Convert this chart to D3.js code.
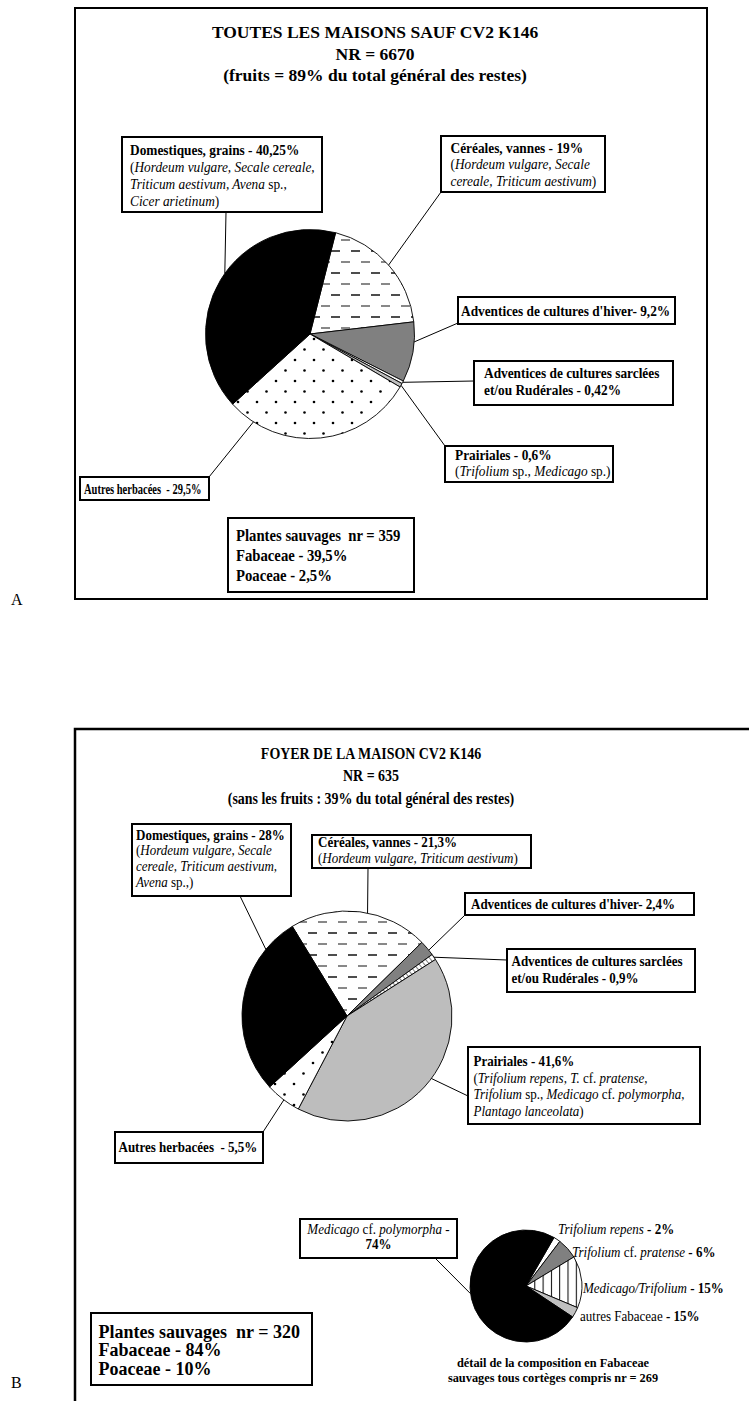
<!DOCTYPE html>
<html>
<head>
<meta charset="utf-8">
<script src="https://cdn.jsdelivr.net/npm/d3@7"></script>
<style>
  body { margin: 0; background: #fff; }
  svg { display: block; }
  text { font-family: "Liberation Serif", "Times New Roman", serif; white-space: pre; fill: #000; }
</style>
</head>
<body>
<svg id="chart" width="749" height="1401"></svg>
<script>
// ---- data ----
const groups = ['cereales', 'hiver', 'sarclees', 'prairiales', 'autres', 'domestiques'];
const topValues = [19, 9.2, 0.42, 0.6, 29.5, 40.25];
const botValues = [21.3, 2.4, 0.9, 41.6, 5.5, 28];

const fabGroups = ['repens', 'pratense', 'medtrif', 'autresFab', 'polymorpha'];
// "autres Fabaceae" is labelled 15% but drawn as a thin slice
const fabValues = [2, 6, 15, 3, 74];

const topTitle = ['TOUTES LES MAISONS SAUF CV2 K146', 'NR = 6670', '(fruits = 89% du total général des restes)'];
const botTitle = ['FOYER DE LA MAISON CV2 K146', 'NR = 635', '(sans les fruits : 39% du total général des restes)'];

// **bold**, _italic_, rest regular
const topLabels = [
  ['**Céréales, vannes - 19%**', '(_Hordeum vulgare, Secale_', '_cereale, Triticum aestivum_)'],
  ["**Adventices de cultures d'hiver- 9,2%**"],
  ['**Adventices de cultures sarclées**', '**et/ou Rudérales - 0,42%**'],
  ['**Prairiales - 0,6%**', '(_Trifolium_ sp., _Medicago_ sp.)'],
  ['**Autres herbacées  - 29,5%**'],
  ['**Domestiques, grains - 40,25%**', '(_Hordeum vulgare, Secale cereale,_', '_Triticum aestivum, Avena_ sp.,', '_Cicer arietinum_)']
];
const botLabels = [
  ['**Céréales, vannes - 21,3%**', '(_Hordeum vulgare, Triticum aestivum_)'],
  ["**Adventices de cultures d'hiver- 2,4%**"],
  ['**Adventices de cultures sarclées**', '**et/ou Rudérales - 0,9%**'],
  ['**Prairiales - 41,6%**', '(_Trifolium repens, T._ cf. _pratense,_', '_Trifolium_ sp., _Medicago_ cf. _polymorpha,_', '_Plantago lanceolata_)'],
  ['**Autres herbacées  - 5,5%**'],
  ['**Domestiques, grains - 28%**', '(_Hordeum vulgare, Secale_', '_cereale, Triticum aestivum,_', '_Avena_ sp.,)']
];
const fabLabels = [
  ['_Trifolium repens_ **- 2%**'],
  ['_Trifolium_ cf. _pratense_ **- 6%**'],
  ['_Medicago/Trifolium_ **- 15%**'],
  ['autres Fabaceae **- 15%**'],
  ['_Medicago_ cf. _polymorpha_ -', '**74%**']
];
const topSummary = ['Plantes sauvages  nr = 359', 'Fabaceae - 39,5%', 'Poaceae - 2,5%'];
const botSummary = ['Plantes sauvages  nr = 320', 'Fabaceae - 84%', 'Poaceae - 10%'];
const fabCaption = ['détail de la composition en Fabaceae', 'sauvages tous cortèges compris nr = 269'];

// ---- styles / layout ----
const topFills = ['url(#dash)', '#808080', '#ffffff', '#c0c0c0', 'url(#dots)', '#000'];
const botFills = ['url(#dash)', '#808080', 'url(#hatch)', '#bdbdbd', 'url(#dots)', '#000'];
const fabFills = ['#ffffff', '#808080', 'url(#vlines)', '#c0c0c0', '#000'];

const topBoxes = [
  { x: 441, y: 136, w: 164, h: 56, tx: 9.5, ty: 16.5, lh: 17, ax: 441, ay: 192, t: 0.5 },
  { x: 458, y: 297, w: 217, h: 27, tx: 3, ty: 19, lh: 17, ax: 458, ay: 323, t: 0.33 },
  { x: 474, y: 361, w: 199, h: 44, tx: 10, ty: 17, lh: 16.8, ax: 474, ay: 381, t: 0.5 },
  { x: 445, y: 446, w: 168, h: 36, tx: 10, ty: 14, lh: 16.5, ax: 445, ay: 446, t: 0.5 },
  { x: 80, y: 477, w: 129, h: 23, tx: 4, ty: 16.5, lh: 17, ax: 209, ay: 477, t: 0.86, sx: 0.725 },
  { x: 122, y: 137, w: 200, h: 75, tx: 8, ty: 17.5, lh: 17.3, ax: 226, ay: 212, t: 0.53 }
];
const botBoxes = [
  { x: 312, y: 835, w: 219, h: 33, tx: 6, ty: 12, lh: 16.3, ax: 368, ay: 868, t: 0.555 },
  { x: 465, y: 893, w: 229, h: 22, tx: 6, ty: 16.3, lh: 16, ax: 465, ay: 915, t: 0.65 },
  { x: 507, y: 949, w: 188, h: 43, tx: 4.5, ty: 17, lh: 16.7, ax: 507, ay: 960, t: 0.55 },
  { x: 468, y: 1047, w: 232, h: 77, tx: 5.5, ty: 19.3, lh: 16.5, ax: 468, ay: 1096, t: 0.46 },
  { x: 115, y: 1132, w: 148, h: 31, tx: 3.5, ty: 19.5, lh: 16, ax: 263, ay: 1132, t: 0.47 },
  { x: 132, y: 824, w: 159, h: 72, tx: 4, ty: 15.5, lh: 16, ax: 240, ay: 896, t: 0.81 }
];
const fabPos = [
  { x: 558, y: 1233.5 },
  { x: 572, y: 1257 },
  { x: 583, y: 1293 },
  { x: 580, y: 1321 },
  { x: 300, y: 1219, w: 157, h: 39, ty: 14.7, lh: 15.5, ax: 435, ay: 1258, t: 0.52 }
];

const svg = d3.select('#chart');

// patterns
const defs = svg.append('defs');
const dash = defs.append('pattern').attr('id', 'dash')
  .attr('patternUnits', 'userSpaceOnUse').attr('width', 20).attr('height', 22);
dash.append('rect').attr('width', 20).attr('height', 22).attr('fill', '#fff');
dash.append('line').attr('x1', 1).attr('x2', 10).attr('y1', 5).attr('y2', 5)
  .attr('stroke', '#000').attr('stroke-width', 1.4);
dash.append('line').attr('x1', 11).attr('x2', 20).attr('y1', 16).attr('y2', 16)
  .attr('stroke', '#555').attr('stroke-width', 1.4);

const dots = defs.append('pattern').attr('id', 'dots')
  .attr('patternUnits', 'userSpaceOnUse').attr('width', 19).attr('height', 21);
dots.append('rect').attr('width', 19).attr('height', 21).attr('fill', '#fff');
dots.append('circle').attr('cx', 4).attr('cy', 5).attr('r', 1.3).attr('fill', '#000');
dots.append('circle').attr('cx', 13.5).attr('cy', 15.5).attr('r', 1.3).attr('fill', '#000');

const hatch = defs.append('pattern').attr('id', 'hatch')
  .attr('patternUnits', 'userSpaceOnUse').attr('width', 4).attr('height', 4)
  .attr('patternTransform', 'rotate(-40)');
hatch.append('rect').attr('width', 4).attr('height', 4).attr('fill', '#fff');
hatch.append('line').attr('x1', 0).attr('x2', 0).attr('y1', 0).attr('y2', 4)
  .attr('stroke', '#000').attr('stroke-width', 1);

const vlines = defs.append('pattern').attr('id', 'vlines')
  .attr('patternUnits', 'userSpaceOnUse').attr('width', 8.3).attr('height', 10);
vlines.append('rect').attr('width', 8.3).attr('height', 10).attr('fill', '#fff');
vlines.append('line').attr('x1', 0.5).attr('x2', 0.5).attr('y1', 0).attr('y2', 10)
  .attr('stroke', '#000').attr('stroke-width', 1);

// rich text: each line split into bold / italic / regular tspans
function richText(g, lines, x, y, lh, fs, anchor, sx) {
  const holder = g.append('g').attr('transform', `translate(${x},${y}) scale(${sx || 1},1)`);
  const t = holder.append('text').attr('font-size', fs).attr('text-anchor', anchor || 'start');
  lines.forEach((line, i) => {
    const parts = line.split(/(\*\*[^*]+\*\*|_[^_]+_)/).filter(s => s.length);
    parts.forEach((p, j) => {
      const ts = t.append('tspan');
      if (j === 0) ts.attr('x', 0).attr('y', i * lh);
      if (p.startsWith('**')) ts.attr('font-weight', 'bold').text(p.slice(2, -2));
      else if (p.startsWith('_')) ts.attr('font-style', 'italic').text(p.slice(1, -1));
      else ts.text(p);
    });
  });
}

function drawPie(values, fills, cx, cy, r, startDeg) {
  const a0 = startDeg * Math.PI / 180;
  const pie = d3.pie().sort(null).startAngle(a0).endAngle(a0 + 2 * Math.PI);
  const arc = d3.arc().innerRadius(0).outerRadius(r);
  const arcs = pie(values);
  svg.append('g')
    .attr('transform', `translate(${cx},${cy})`)
    .selectAll('path')
    .data(arcs)
    .join('path')
    .attr('d', arc)
    .attr('fill', (d, i) => fills[i])
    .attr('stroke', '#000')
    .attr('stroke-width', 0.9);
  // point on the rim inside a slice, t = fraction across the slice
  return (i, t) => {
    const d = arcs[i];
    const p = d3.pointRadial(d.startAngle + t * (d.endAngle - d.startAngle), r);
    return [cx + p[0], cy + p[1]];
  };
}

function leader(from, to) {
  svg.append('line')
    .attr('x1', from[0]).attr('y1', from[1])
    .attr('x2', to[0]).attr('y2', to[1])
    .attr('stroke', '#000').attr('stroke-width', 1);
}

function box(b) {
  svg.append('rect')
    .attr('x', b.x).attr('y', b.y).attr('width', b.w).attr('height', b.h)
    .attr('fill', '#fff').attr('stroke', '#000').attr('stroke-width', 2);
}

function labelledPie(values, fills, labels, boxes, cx, cy, r, startDeg, fs, sx) {
  const rim = drawPie(values, fills, cx, cy, r, startDeg);
  boxes.forEach((b, i) => leader([b.ax, b.ay], rim(i, b.t)));
  boxes.forEach((b, i) => {
    box(b);
    richText(svg, labels[i], b.x + b.tx, b.y + b.ty, b.lh, fs, 'start', b.sx || sx);
  });
}

// frames
svg.append('rect').attr('x', 75).attr('y', 8).attr('width', 632).attr('height', 591)
  .attr('fill', 'none').attr('stroke', '#000').attr('stroke-width', 2);
svg.append('path').attr('d', 'M75,1401V729H749')
  .attr('fill', 'none').attr('stroke', '#000').attr('stroke-width', 2.5);
svg.append('text').attr('x', 11).attr('y', 605).attr('font-size', 16).text('A');
svg.append('text').attr('x', 11).attr('y', 1388).attr('font-size', 16).text('B');

// ---- panel A ----
richText(svg, topTitle.map(s => `**${s}**`), 375, 38, 21.7, 17.5, 'middle');
labelledPie(topValues, topFills, topLabels, topBoxes, 310, 334, 104.5, 14.2, 14.5, 0.92);
const ts = { x: 228, y: 518, w: 186, h: 74 };
box(ts);
richText(svg, topSummary.map(s => `**${s}**`), ts.x + 8, ts.y + 22.5, 20.5, 17.5, 'start', 0.84);

// ---- panel B ----
richText(svg, botTitle.map(s => `**${s}**`), 371, 759, 22.3, 16.5, 'middle', 0.845);
labelledPie(botValues, botFills, botLabels, botBoxes, 347, 1016, 105, -31.4, 14, 0.93);
const bs = { x: 91, y: 1313, w: 221, h: 72 };
box(bs);
richText(svg, botSummary.map(s => `**${s}**`), bs.x + 7.5, bs.y + 24.5, 18.5, 18, 'start');

// Fabaceae detail pie
const fabRim = drawPie(fabValues, fabFills, 526, 1286, 56, 30);
const fb = fabPos[4];
leader([fb.ax, fb.ay], fabRim(4, fb.t));
box(fb);
richText(svg, fabLabels[4], fb.x + fb.w / 2, fb.y + fb.ty, fb.lh, 14, 'middle', 0.93);
fabPos.slice(0, 4).forEach((p, i) => richText(svg, fabLabels[i], p.x, p.y, 15, 14, 'start', 0.93));
richText(svg, fabCaption.map(s => `**${s}**`), 553, 1367, 15, 13, 'middle', 0.95);
</script>
</body>
</html>
